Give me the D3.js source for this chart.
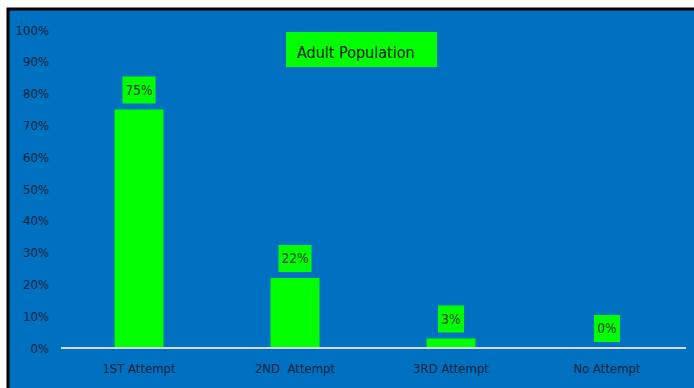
<!DOCTYPE html>
<html><head><meta charset="utf-8">
<script src="https://cdn.jsdelivr.net/npm/d3@7"></script>
<style>
html,body{margin:0;padding:0;background:#fff;}
svg{display:block;}
text{font-family:"Liberation Sans Narrow","DejaVu Sans Condensed","Liberation Sans",sans-serif;}
</style></head>
<body>
<svg id="chart" width="694" height="388"></svg>
<script>
const categories = ["1ST Attempt", "2ND  Attempt", "3RD Attempt", "No Attempt"];
const values = [0.75, 0.22, 0.03, 0.0];
const valueLabels = ["75%", "22%", "3%", "0%"];
const yTicks = [0, 0.1, 0.2, 0.3, 0.4, 0.5, 0.6, 0.7, 0.8, 0.9, 1.0];
const title = "Adult Population";

const svg = d3.select("#chart");
// frame
svg.append("rect").attr("x", 8).attr("y", 9).attr("width", 694).attr("height", 388)
  .attr("fill", "#0070C0").attr("stroke", "#000").attr("stroke-width", 3);

const x = d3.scaleBand().domain(categories).range([61, 685])
  .paddingInner(0.686).paddingOuter(0.343);
const y = d3.scaleLinear().domain([0, 1]).range([348, 30]);

// y axis labels
const yAxis = d3.axisLeft(y).tickValues(yTicks).tickFormat(d3.format(".0%")).tickSize(0).tickPadding(0);
const ya = svg.append("g").attr("transform", "translate(49,0)").call(yAxis);
ya.select(".domain").remove();
ya.selectAll("text").attr("font-size", 13).attr("fill", "#0f2238")
  .style("font-family", '"Liberation Sans Narrow","DejaVu Sans Condensed",sans-serif');

// bars
svg.selectAll("rect.bar").data(values).join("rect").attr("class", "bar")
  .attr("x", (d, i) => x(categories[i]))
  .attr("y", d => y(d))
  .attr("width", x.bandwidth())
  .attr("height", d => y(0) - y(d))
  .attr("fill", "#00FF00");

// baseline
svg.append("line").attr("x1", 61).attr("x2", 686).attr("y1", y(0)).attr("y2", y(0))
  .attr("stroke", "#d9d9d9").attr("stroke-width", 2);

// x axis labels
const xAxis = d3.axisBottom(x).tickSize(0).tickPadding(0);
const xa = svg.append("g").attr("transform", `translate(0,${y(0) + 16})`).call(xAxis);
xa.select(".domain").remove();
xa.selectAll("text").attr("font-size", 13).attr("fill", "#0f2238").attr("dy", "0.71em")
  .style("font-family", '"Liberation Sans Narrow","DejaVu Sans Condensed",sans-serif')
  .style("white-space", "pre");

// value labels
const lg = svg.selectAll("g.vl").data(values).join("g").attr("class", "vl")
  .attr("transform", (d, i) => `translate(${x(categories[i]) + x.bandwidth() / 2},${y(d) - 6})`);
lg.each(function(d, i) {
  const g = d3.select(this);
  const w = valueLabels[i].length >= 3 ? 33 : 26;
  g.append("rect").attr("x", -w / 2).attr("y", -27).attr("width", w).attr("height", 27).attr("fill", "#00FF00");
  g.append("text").attr("x", 0).attr("y", -13.5).attr("dy", "0.35em").attr("text-anchor", "middle")
    .attr("font-size", 13.5).attr("fill", "#1c3a1c").text(valueLabels[i]);
});

// title box
svg.append("rect").attr("x", 286).attr("y", 32).attr("width", 151).attr("height", 35).attr("fill", "#00FF00");
svg.append("text").attr("x", 297).attr("y", 58).attr("font-size", 16).attr("fill", "#0a1a0a").text(title);
</script>
</body></html>
